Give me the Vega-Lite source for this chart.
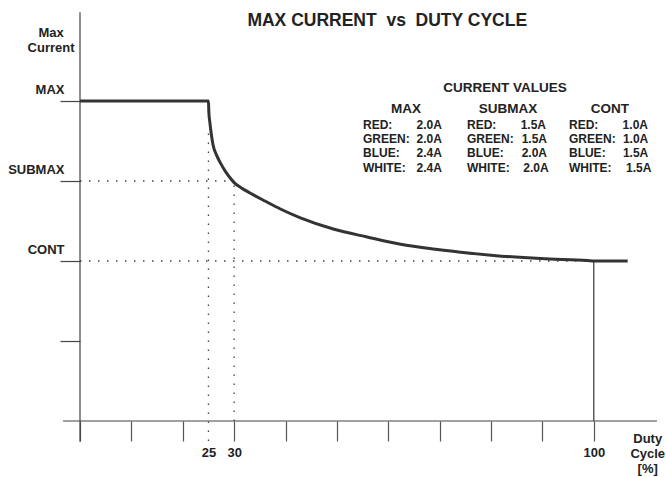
{
  "$schema": "https://vega.github.io/schema/vega-lite/v6.json",
  "width": 578,
  "height": 408,
  "autosize": {"type": "none"},
  "padding": {"left": 80, "top": 13, "right": 8, "bottom": 56},
  "background": "white",
  "config": {"view": {"stroke": null}, "font": "Liberation Sans"},
  "datasets": {
    "curve": [
      {"x": 0, "y": 4}, {"x": 25, "y": 4}, {"x": 25.08, "y": 3.86}, {"x": 25.3, "y": 3.72},
      {"x": 25.9, "y": 3.45}, {"x": 26.6, "y": 3.32}, {"x": 27.3, "y": 3.23}, {"x": 28.3, "y": 3.12},
      {"x": 29.2, "y": 3.04}, {"x": 30, "y": 2.98}, {"x": 31.5, "y": 2.91}, {"x": 33.1, "y": 2.85},
      {"x": 36, "y": 2.75}, {"x": 39, "y": 2.65}, {"x": 42.9, "y": 2.54}, {"x": 49.3, "y": 2.4},
      {"x": 55.9, "y": 2.3}, {"x": 62.4, "y": 2.21}, {"x": 68.8, "y": 2.15}, {"x": 74.1, "y": 2.11},
      {"x": 80.5, "y": 2.07}, {"x": 89.7, "y": 2.03}, {"x": 98.8, "y": 2.005}, {"x": 100, "y": 2.0},
      {"x": 106.6, "y": 2.0}
    ],
    "axisLines": [
      {"x": -3.3, "x2": 112.3, "y": 0, "y2": 0},
      {"x": 0, "x2": 0, "y": -0.26, "y2": 5.11}
    ],
    "solid": [{"x": 100, "x2": 100, "y": 0, "y2": 2}],
    "dotted": [
      {"x": 25, "x2": 25, "y": -0.25, "y2": 3.6},
      {"x": 30, "x2": 30, "y": 0, "y2": 2.95},
      {"x": 0, "x2": 30, "y": 3, "y2": 3},
      {"x": 0, "x2": 100, "y": 2, "y2": 2}
    ],
    "title": [{"x": 59.8, "y": 4.935, "t": "MAX CURRENT\u00a0\u00a0vs\u00a0\u00a0DUTY CYCLE"}],
    "captions": [
      {"x": -5.64, "y": 4.8, "t": "Max"}, {"x": -5.64, "y": 4.6125, "t": "Current"},
      {"x": 110.5, "y": -0.275, "t": "Duty"}, {"x": 110.5, "y": -0.4625, "t": "Cycle"}, {"x": 110.5, "y": -0.65, "t": "[%]"}
    ],
    "headers": [
      {"x": 82.72, "y": 4.11, "t": "CURRENT VALUES"},
      {"x": 63.45, "y": 3.85, "t": "MAX"},
      {"x": 83.3, "y": 3.85, "t": "SUBMAX"},
      {"x": 103.15, "y": 3.85, "t": "CONT"}
    ],
    "rowLabels": [
      {"x": 55.08, "y": 3.65, "t": "RED:"}, {"x": 55.08, "y": 3.475, "t": "GREEN:"}, {"x": 55.08, "y": 3.295, "t": "BLUE:"}, {"x": 55.08, "y": 3.1125, "t": "WHITE:"},
      {"x": 75.32, "y": 3.65, "t": "RED:"}, {"x": 75.32, "y": 3.475, "t": "GREEN:"}, {"x": 75.32, "y": 3.295, "t": "BLUE:"}, {"x": 75.32, "y": 3.1125, "t": "WHITE:"},
      {"x": 95.17, "y": 3.65, "t": "RED:"}, {"x": 95.17, "y": 3.475, "t": "GREEN:"}, {"x": 95.17, "y": 3.295, "t": "BLUE:"}, {"x": 95.17, "y": 3.1125, "t": "WHITE:"}
    ],
    "rowValues": [
      {"x": 70.45, "y": 3.65, "t": "2.0A"}, {"x": 70.45, "y": 3.475, "t": "2.0A"}, {"x": 70.45, "y": 3.295, "t": "2.4A"}, {"x": 70.45, "y": 3.1125, "t": "2.4A"},
      {"x": 90.7, "y": 3.65, "t": "1.5A"}, {"x": 90.9, "y": 3.475, "t": "1.5A"}, {"x": 90.9, "y": 3.295, "t": "2.0A"}, {"x": 91.2, "y": 3.1125, "t": "2.0A"},
      {"x": 110.55, "y": 3.65, "t": "1.0A"}, {"x": 110.6, "y": 3.475, "t": "1.0A"}, {"x": 110.6, "y": 3.295, "t": "1.5A"}, {"x": 111.2, "y": 3.1125, "t": "1.5A"}
    ]
  },
  "encoding": {
    "x": {
      "field": "x", "type": "quantitative",
      "scale": {"domain": [0, 112.5], "nice": false, "zero": false},
      "axis": {
        "domain": false, "grid": false, "title": null,
        "values": [0, 10, 20, 25, 30, 40, 50, 60, 70, 80, 90, 100],
        "tickSize": 20, "tickColor": "#555555", "tickWidth": 1.2,
        "tickOpacity": {"condition": {"test": "datum.value === 25", "value": 0}, "value": 1},
        "labelExpr": "(datum.value === 25 || datum.value === 30 || datum.value === 100) ? datum.label : ''",
        "labelFont": "Liberation Sans", "labelFontSize": 13, "labelFontWeight": "bold", "labelColor": "#222222",
        "labelPadding": 5, "labelOverlap": false, "labelFlush": false
      }
    },
    "y": {
      "field": "y", "type": "quantitative",
      "scale": {"domain": [0, 5.1], "nice": false, "zero": false},
      "axis": {
        "domain": false, "grid": false, "title": null,
        "values": [1, 2, 3, 4],
        "tickSize": 20, "tickColor": "#444444", "tickWidth": 1.2,
        "labelExpr": "datum.value === 4 ? 'MAX' : datum.value === 3 ? 'SUBMAX' : datum.value === 2 ? 'CONT' : ''",
        "labelFont": "Liberation Sans", "labelFontSize": 13, "labelFontWeight": "bold", "labelColor": "#222222",
        "labelPadding": -4, "labelBaseline": "alphabetic", "labelOffset": -8, "labelOverlap": false, "labelFlush": false
      }
    }
  },
  "layer": [
    {
      "data": {"name": "axisLines"},
      "mark": {"type": "rule", "color": "#444444", "strokeWidth": 1.2},
      "encoding": {"x2": {"field": "x2"}, "y2": {"field": "y2"}}
    },
    {
      "data": {"name": "solid"},
      "mark": {"type": "rule", "color": "#333333", "strokeWidth": 1.2},
      "encoding": {"x2": {"field": "x2"}, "y2": {"field": "y2"}}
    },
    {
      "data": {"name": "dotted"},
      "mark": {"type": "rule", "color": "#444444", "strokeWidth": 1.3, "strokeDash": [1.5, 7.5]},
      "encoding": {"x2": {"field": "x2"}, "y2": {"field": "y2"}}
    },
    {
      "data": {"name": "curve"},
      "mark": {"type": "line", "color": "#333333", "strokeWidth": 3, "interpolate": "monotone"},
      "encoding": {}
    },
    {
      "data": {"name": "title"},
      "mark": {"type": "text", "font": "Liberation Sans", "fontSize": 17.5, "fontWeight": "bold", "color": "#222222", "align": "center", "baseline": "alphabetic"},
      "encoding": {"text": {"field": "t"}}
    },
    {
      "data": {"name": "captions"},
      "mark": {"type": "text", "font": "Liberation Sans", "fontSize": 13, "fontWeight": "bold", "color": "#222222", "align": "center", "baseline": "alphabetic"},
      "encoding": {"text": {"field": "t"}}
    },
    {
      "data": {"name": "headers"},
      "mark": {"type": "text", "font": "Liberation Sans", "fontSize": 13.5, "fontWeight": "bold", "color": "#222222", "align": "center", "baseline": "alphabetic"},
      "encoding": {"text": {"field": "t"}}
    },
    {
      "data": {"name": "rowLabels"},
      "mark": {"type": "text", "font": "Liberation Sans", "fontSize": 12, "fontWeight": "bold", "color": "#222222", "align": "left", "baseline": "alphabetic"},
      "encoding": {"text": {"field": "t"}}
    },
    {
      "data": {"name": "rowValues"},
      "mark": {"type": "text", "font": "Liberation Sans", "fontSize": 12, "fontWeight": "bold", "color": "#222222", "align": "right", "baseline": "alphabetic"},
      "encoding": {"text": {"field": "t"}}
    }
  ]
}
